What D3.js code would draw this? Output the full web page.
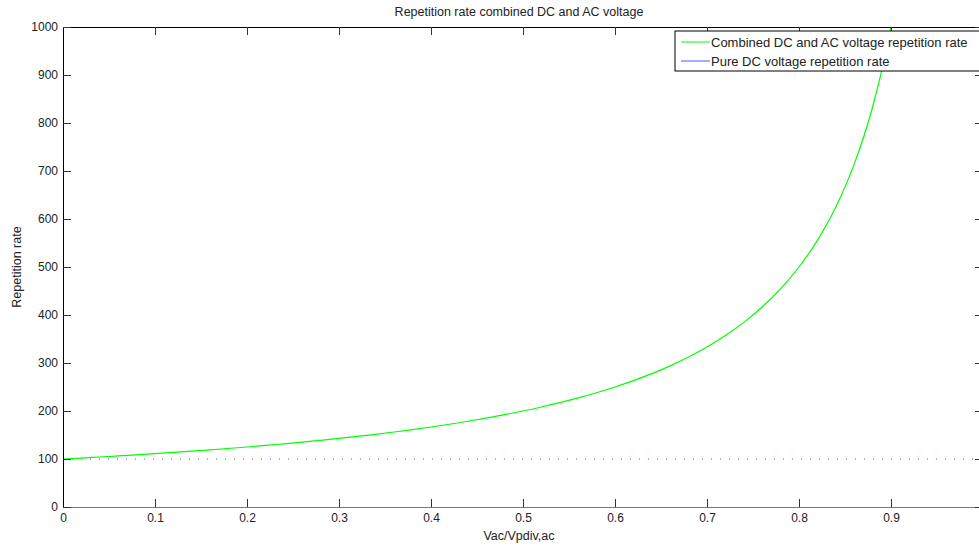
<!DOCTYPE html>
<html>
<head>
<meta charset="utf-8">
<script src="https://cdn.jsdelivr.net/npm/d3@7"></script>
<style>
  html, body { margin: 0; padding: 0; background: #fff; }
  svg { display: block; font-family: "Liberation Sans", Arial, sans-serif; }
</style>
</head>
<body>
<svg id="chart" width="979" height="546"></svg>
<script>
// Ratio Vac/Vpdiv,ac
const ratio = [0, 0.02, 0.04, 0.06, 0.08, 0.10, 0.12, 0.14, 0.16, 0.18,
  0.20, 0.22, 0.24, 0.26, 0.28, 0.30, 0.32, 0.34, 0.36, 0.38,
  0.40, 0.42, 0.44, 0.46, 0.48, 0.50, 0.52, 0.54, 0.56, 0.58,
  0.60, 0.62, 0.64, 0.66, 0.68, 0.70, 0.72, 0.74, 0.76, 0.78,
  0.80, 0.82, 0.84, 0.86, 0.88, 0.90, 0.92];
// Repetition rate with combined DC and AC voltage
const combinedRate = [100, 102.0, 104.2, 106.4, 108.7, 111.1, 113.6, 116.3, 119.0, 122.0,
  125.0, 128.2, 131.6, 135.1, 138.9, 142.9, 147.1, 151.5, 156.3, 161.3,
  166.7, 172.4, 178.6, 185.2, 192.3, 200.0, 208.3, 217.4, 227.3, 238.1,
  250.0, 263.2, 277.8, 294.1, 312.5, 333.3, 357.1, 384.6, 416.7, 454.5,
  500.0, 555.6, 625.0, 714.3, 833.3, 1000, 1250];
// Repetition rate with pure DC voltage
const dcRatio = [0, 1];
const dcRate = [100, 100];

const xTicks = [0, 0.1, 0.2, 0.3, 0.4, 0.5, 0.6, 0.7, 0.8, 0.9];
const yTicks = [0, 100, 200, 300, 400, 500, 600, 700, 800, 900, 1000];

const title = "Repetition rate combined DC and AC voltage";
const xLabel = "Vac/Vpdiv,ac";
const yLabel = "Repetition rate";
const legendLabels = ["Combined DC and AC voltage repetition rate", "Pure DC voltage repetition rate"];

const svg = d3.select("#chart");
const m = { left: 63, top: 27, right: 983, bottom: 507 };

const x = d3.scaleLinear().domain([0, 1]).range([m.left, m.right]);
const y = d3.scaleLinear().domain([0, 1000]).range([m.bottom, m.top]);

svg.append("defs").append("clipPath").attr("id", "plotclip")
  .append("rect").attr("x", m.left).attr("y", m.top)
  .attr("width", m.right - m.left).attr("height", m.bottom - m.top);

const plot = svg.append("g").attr("clip-path", "url(#plotclip)");

// Pure DC reference (dotted)
plot.append("path")
  .datum(dcRatio.map((d, i) => [d, dcRate[i]]))
  .attr("fill", "none").attr("stroke", "#5555ff").attr("stroke-width", 1)
  .attr("stroke-dasharray", "1,8")
  .attr("d", d3.line().x(d => x(d[0])).y(d => y(d[1])));

// Combined DC + AC curve
plot.append("path")
  .datum(ratio.map((d, i) => [d, combinedRate[i]]))
  .attr("fill", "none").attr("stroke", "#00ff00").attr("stroke-width", 1.2)
  .attr("d", d3.line().curve(d3.curveMonotoneX).x(d => x(d[0])).y(d => y(d[1])));

// Axes (ticks pointing inward, box frame)
const tickLen = 8;
const fontSize = 12;
const labelSize = 12.5;
const axisCol = "#000";

const xAxisB = d3.axisBottom(x).tickValues(xTicks).tickSizeInner(-tickLen).tickSizeOuter(0).tickPadding(6)
  .tickFormat(d => d === 0 ? "0" : d3.format(".1f")(d));
const gxb = svg.append("g").attr("transform", `translate(0,${m.bottom})`).call(xAxisB);
gxb.select(".domain").attr("stroke", "#777");
gxb.selectAll(".tick line").attr("stroke", "#333");
gxb.selectAll("text").attr("font-size", fontSize).attr("fill", "#222").attr("font-family", "Liberation Sans, Arial, sans-serif");

const xAxisT = d3.axisTop(x).tickValues(xTicks).tickSizeInner(-tickLen).tickSizeOuter(0).tickFormat("");
const gxt = svg.append("g").attr("transform", `translate(0,${m.top})`).call(xAxisT);
gxt.select(".domain").attr("stroke", axisCol);
gxt.selectAll(".tick line").attr("stroke", "#333");

const yAxisL = d3.axisLeft(y).tickValues(yTicks).tickSizeInner(-tickLen).tickSizeOuter(0).tickPadding(5)
  .tickFormat(d3.format("d"));
const gyl = svg.append("g").attr("transform", `translate(${m.left},0)`).call(yAxisL);
gyl.select(".domain").attr("stroke", axisCol);
gyl.selectAll(".tick line").attr("stroke", "#333");
gyl.selectAll("text").attr("font-size", fontSize).attr("fill", "#222").attr("font-family", "Liberation Sans, Arial, sans-serif");

const yAxisR = d3.axisRight(y).tickValues(yTicks).tickSizeInner(-tickLen).tickSizeOuter(0).tickFormat("");
const gyr = svg.append("g").attr("transform", `translate(${m.right},0)`).call(yAxisR);
gyr.select(".domain").attr("stroke", axisCol);
gyr.selectAll(".tick line").attr("stroke", "#333");

// Title and axis labels
svg.append("text").attr("x", (m.left + m.right) / 2 - 4).attr("y", 16)
  .attr("text-anchor", "middle").attr("font-size", labelSize).attr("fill", "#222").text(title);
svg.append("text").attr("x", (m.left + m.right) / 2 - 4).attr("y", 540)
  .attr("text-anchor", "middle").attr("font-size", labelSize).attr("fill", "#222").text(xLabel);
svg.append("text").attr("transform", `translate(21,${(m.top + m.bottom) / 2}) rotate(-90)`)
  .attr("text-anchor", "middle").attr("font-size", labelSize).attr("fill", "#222").text(yLabel);

// Legend
const legend = svg.append("g").attr("transform", "translate(675,31)");
legend.append("rect").attr("x", 0).attr("y", 0).attr("width", 310).attr("height", 40)
  .attr("fill", "#fff").attr("stroke", "#000").attr("stroke-width", 1);
const legendColors = ["#00ff00", "#5555ff"];
legendLabels.forEach((lab, i) => {
  const ly = 11 + i * 19;
  legend.append("line").attr("x1", 6).attr("x2", 35).attr("y1", ly).attr("y2", ly)
    .attr("stroke", legendColors[i]).attr("stroke-width", 1);
  legend.append("text").attr("x", 36).attr("y", ly + 4.5).attr("font-size", 13).attr("fill", "#222").text(lab);
});
</script>
</body>
</html>
